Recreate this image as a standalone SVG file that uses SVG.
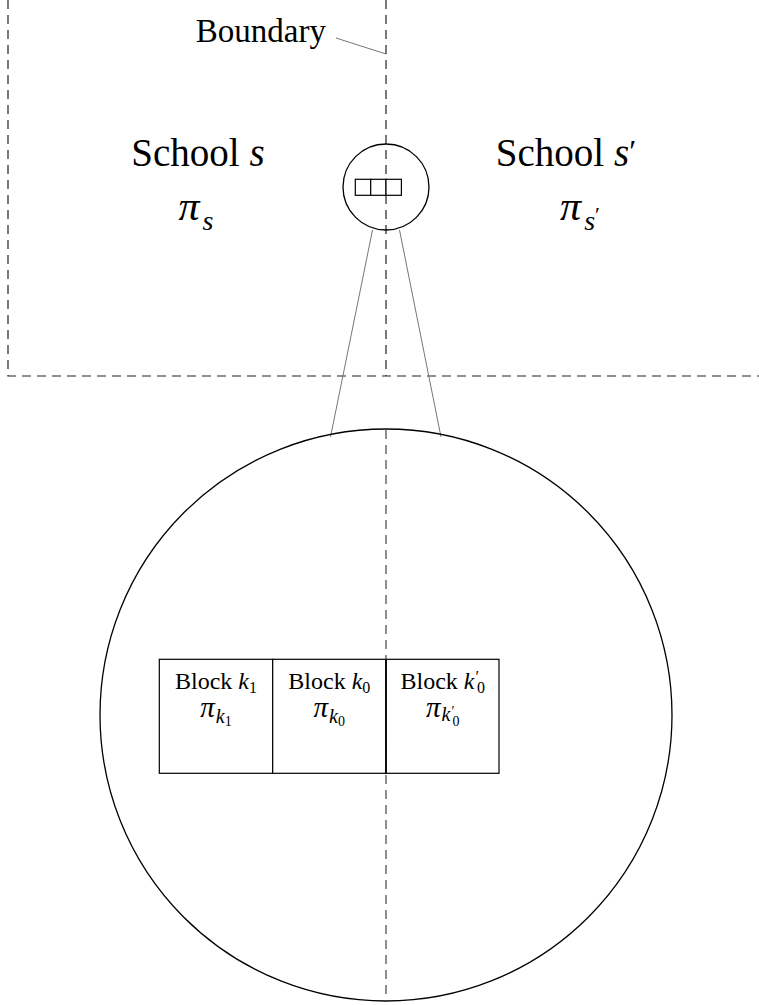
<svg xmlns="http://www.w3.org/2000/svg" width="759" height="1005" viewBox="0 0 759 1005">
<style>
.dash{fill:none;stroke:#222;stroke-width:1.2;stroke-dasharray:9 6}
.zoom{fill:none;stroke:#777;stroke-width:1}
.circ{fill:none;stroke:#000;stroke-width:1.3}
.blk{fill:#fff;stroke:#000;stroke-width:1.2}
text{font-family:'Liberation Serif','Times New Roman','DejaVu Serif',serif;fill:#000}
.it{font-style:italic}
</style>
<rect width="759" height="1005" fill="#fff"/>
<g id="regions">
<path class="dash" d="M8,0 V376 H759"/>
<path class="dash" d="M386,0 V376"/>
</g>
<g id="connectors">
<line class="zoom" x1="336" y1="38" x2="386" y2="54"/>
<line class="zoom" x1="372.5" y1="230" x2="330.5" y2="437"/>
<line class="zoom" x1="399.5" y1="230" x2="441" y2="437"/>
</g>
<g id="small-circle">
<circle class="circ" cx="386" cy="187" r="43"/>
<rect class="blk" x="355.3" y="179.3" width="15.4" height="16"/>
<rect class="blk" x="370.7" y="179.3" width="15.3" height="16"/>
<rect class="blk" x="386" y="179.3" width="15.4" height="16"/>
</g>
<g id="big-circle">
<circle class="circ" cx="386" cy="715" r="286"/>
<rect class="blk" x="159.3" y="659.3" width="113.4" height="114"/>
<rect class="blk" x="272.7" y="659.3" width="113.3" height="114"/>
<rect class="blk" x="386" y="659.3" width="113" height="114"/>
<line class="dash" x1="386" y1="430" x2="386" y2="1001" style="stroke:#444"/>
<line x1="386" y1="659.3" x2="386" y2="773.3" stroke="#000" stroke-width="1.6"/>
</g>
<g id="labels">
<text x="326" y="42" font-size="33" text-anchor="end" font-family="Liberation Serif, serif">Boundary</text>
<text x="198" y="166" font-size="39" text-anchor="middle" font-family="Liberation Serif, serif">School <tspan class="it">s</tspan></text>
<text x="566" y="166" font-size="39" text-anchor="middle" font-family="Liberation Serif, serif">School <tspan class="it">s</tspan><tspan font-size="32" dy="-4">′</tspan></text>
<text x="196" y="220" font-size="42" text-anchor="middle" font-family="Liberation Serif, serif"><tspan class="it">π</tspan><tspan class="it" font-size="28" dx="3" dy="10">s</tspan></text>
<text x="580" y="220" font-size="42" text-anchor="middle" font-family="Liberation Serif, serif"><tspan class="it">π</tspan><tspan class="it" font-size="28" dx="3" dy="10">s</tspan><tspan font-size="22" dy="-8">′</tspan></text>
</g>
<g id="block-k1">
<text x="216" y="689" font-size="24" text-anchor="middle" font-family="Liberation Serif, serif">Block <tspan class="it">k</tspan><tspan font-size="16" dy="4">1</tspan></text>
<text x="216" y="717" font-size="29" text-anchor="middle" font-family="Liberation Serif, serif"><tspan class="it">π</tspan><tspan class="it" font-size="20" dx="1" dy="6">k</tspan><tspan font-size="14" dy="3">1</tspan></text>
</g>
<g id="block-k0">
<text x="329.3" y="689" font-size="24" text-anchor="middle" font-family="Liberation Serif, serif">Block <tspan class="it">k</tspan><tspan font-size="16" dy="4">0</tspan></text>
<text x="329.3" y="717" font-size="29" text-anchor="middle" font-family="Liberation Serif, serif"><tspan class="it">π</tspan><tspan class="it" font-size="20" dx="1" dy="6">k</tspan><tspan font-size="14" dy="3">0</tspan></text>
</g>
<g id="block-k0p">
<text x="442.7" y="689" font-size="24" text-anchor="middle" font-family="Liberation Serif, serif">Block <tspan class="it">k</tspan><tspan font-size="16" dx="1" dy="-7">′</tspan><tspan font-size="16" dx="-2" dy="11">0</tspan></text>
<text x="442.7" y="717" font-size="29" text-anchor="middle" font-family="Liberation Serif, serif"><tspan class="it">π</tspan><tspan class="it" font-size="20" dx="1" dy="4">k</tspan><tspan font-size="14" dx="1" dy="-5">′</tspan><tspan font-size="14" dx="-2" dy="10">0</tspan></text>
</g>
</svg>
